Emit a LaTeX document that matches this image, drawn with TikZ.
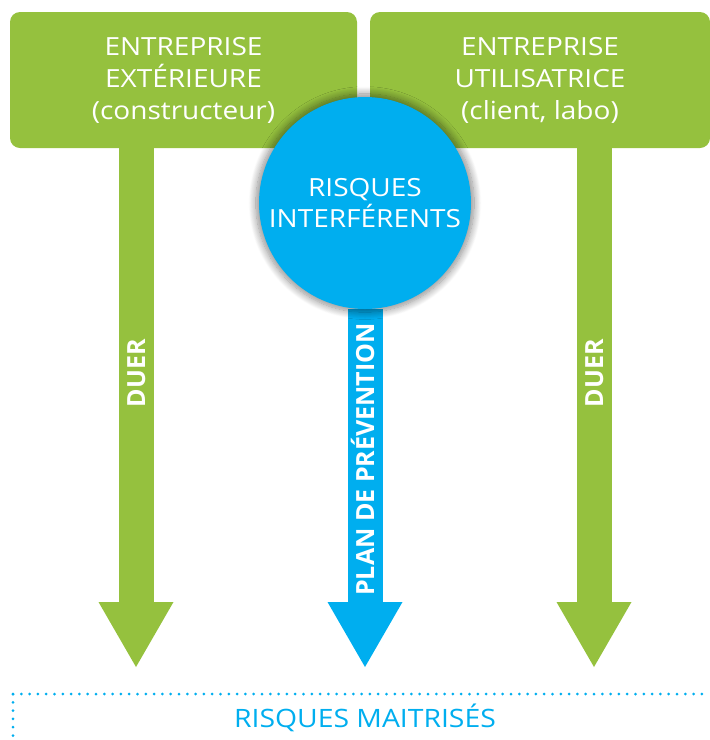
\documentclass[tikz,border=0pt]{standalone}
\usepackage{fontspec}
\setmainfont{Open Sans}
\newfontfamily\etire{Open Sans}[FakeStretch=1.12]
\usetikzlibrary{positioning,arrows.meta,shadows.blur,backgrounds}
\definecolor{vert}{HTML}{95C13E}
\definecolor{bleu}{HTML}{00AEEF}

\begin{document}
\begin{tikzpicture}[
  x=1pt, y=-1pt,
  entite/.style={fill=vert, rounded corners=10pt, minimum height=136pt, align=center, text=white, inner sep=0pt, font=\etire\fontsize{25}{32}\selectfont},
  bulle/.style={circle, fill=bleu, minimum size=212pt, inner sep=0pt, align=center, text=white, font=\etire\fontsize{25}{31}\selectfont,
    blur shadow={shadow xshift=0pt, shadow yshift=0pt, shadow scale=1.03, shadow blur radius=7pt, shadow blur steps=12, shadow opacity=45}},
  fleche/.style={line width=35pt, -{Triangle[width=75pt, length=65pt, line width=0pt]}},
  consigne/.style={font=\bfseries\fontsize{25}{30}\selectfont, text=white, rotate=90, inner sep=0pt, text height=18pt, text depth=0pt},
  pointille/.style={draw=bleu, line width=3pt, line cap=round, dash pattern=on 0pt off 8.3pt}
]
\useasboundingbox (0,0) rectangle (710,740);

% les deux entreprises
\node[entite, minimum width=347pt] (ext) at (183.5,80) {ENTREPRISE\\EXTÉRIEURE\\(constructeur)};
\node[entite, minimum width=340pt] (util) at (540,80) {ENTREPRISE\\UTILISATRICE\\(client, labo)};

% pointes des fleches
\coordinate (pext) at (136,667);
\coordinate (pinter) at (365,667);
\coordinate (putil) at (594,667);

\draw[fleche, vert] (pext |- ext.south) -- node[consigne, pos=0.434] (duerext) {DUER} (pext);
\draw[fleche, vert] (putil |- util.south) -- node[consigne, pos=0.434] (duerutil) {DUER} (putil);

% risques communs, la fleche bleue passe dessous
\node[bulle] (inter) at (365,203) {RISQUES\\INTERFÉRENTS};
\begin{scope}[on background layer]
\draw[fleche, bleu] (inter) -- node[consigne, pos=0.42] (plan) {PLAN DE PRÉVENTION} (pinter);
\end{scope}

% resultat
\coordinate (coin) at (13,694);
\coordinate (finh) at (710,694);
\coordinate (finv) at (13,740);
\draw[pointille] (coin) -- (finh);
\draw[pointille] (coin) -- (finv);
\node[font=\etire\fontsize{25.3}{28}\selectfont, text=bleu, anchor=base] (bilan) at (365,727) {RISQUES MAITRISÉS};
\end{tikzpicture}
\end{document}
